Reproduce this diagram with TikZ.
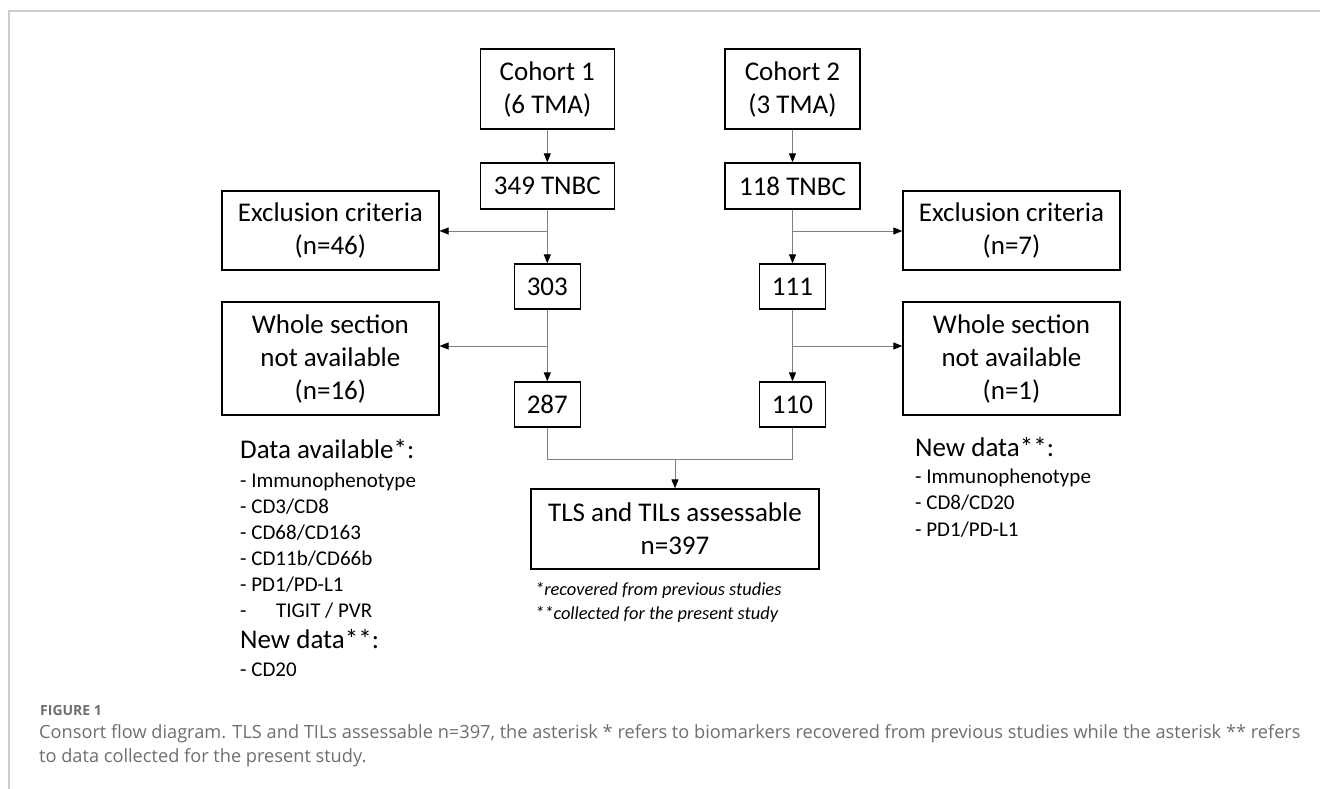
\documentclass[tikz,border=0pt]{standalone}
\usepackage{fontspec}
\setmainfont{Carlito}
\newfontfamily\capfont{Open Sans}
\usetikzlibrary{arrows.meta}
\definecolor{framegray}{HTML}{CCCCCC}
\definecolor{linegray}{HTML}{808080}
\definecolor{capgray}{HTML}{6E6E6E}
\begin{document}
\begin{tikzpicture}[x=1pt,y=-1pt,
  boxs/.style={draw=black, line width=1.3pt, inner sep=0pt, align=center, font=\fontsize{27}{33}\selectfont},
  conn/.style={draw=linegray, line width=1pt},
  arr/.style={conn, -{Triangle[length=9pt,width=7pt,color=black]}},
  head/.style={anchor=base west, inner sep=0pt, font=\fontsize{27}{33}\selectfont},
  item/.style={anchor=base west, inner sep=0pt, font=\fontsize{21}{26}\selectfont},
  foot/.style={anchor=base west, inner sep=0pt, font=\fontsize{18.4}{24}\selectfont\itshape},
  captext/.style={anchor=base west, inner sep=0pt, text=capgray, font=\capfont\fontsize{18.2}{24}\selectfont}
]
\useasboundingbox (0,0) rectangle (1320,789);
% frame
\draw[framegray, line width=1.5pt] (9,789) -- (9,11) -- (1320,11);

% left column
\node[boxs, minimum width=134pt, minimum height=80pt] (c1) at (547.3,89) {Cohort 1\\(6 TMA)};
\node[boxs, minimum width=134pt, minimum height=46pt] (t1) at (547.3,186) {349 TNBC};
\node[boxs, minimum width=217pt, minimum height=79pt] (e1) at (330.4,230.5) {Exclusion criteria\\(n=46)};
\node[boxs, minimum width=66pt, minimum height=45pt] (a1) at (547.3,286.5) {303};
\node[boxs, minimum width=217pt, minimum height=113pt] (w1) at (330.4,358.5) {Whole section\\not available\\(n=16)};
\node[boxs, minimum width=66pt, minimum height=45pt] (b1) at (547.3,404.5) {287};

% right column
\node[boxs, minimum width=135pt, minimum height=80pt] (c2) at (792.5,89) {Cohort 2\\(3 TMA)};
\node[boxs, minimum width=135pt, minimum height=46pt] (t2) at (792.5,186) {118 TNBC};
\node[boxs, minimum width=217pt, minimum height=79pt] (e2) at (1011.5,230.5) {Exclusion criteria\\(n=7)};
\node[boxs, minimum width=66pt, minimum height=45pt] (a2) at (792.5,286.5) {111};
\node[boxs, minimum width=217pt, minimum height=113pt] (w2) at (1011.5,358.5) {Whole section\\not available\\(n=1)};
\node[boxs, minimum width=66pt, minimum height=45pt] (b2) at (792.5,404.5) {110};

% final
\node[boxs, minimum width=288pt, minimum height=80pt] (tls) at (675,529) {TLS and TILs assessable\\n=397};

% connectors
\coordinate (j1) at (547.3,231);
\coordinate (j2) at (547.3,346);
\coordinate (k1) at (792.5,231);
\coordinate (k2) at (792.5,346);
\coordinate (m) at (675,459);
\draw[arr] (c1) -- (t1);
\draw[arr] (t1) -- (a1);
\draw[arr] (j1) -- (j1 -| e1.east);
\draw[arr] (a1) -- (b1);
\draw[arr] (j2) -- (j2 -| w1.east);
\draw[arr] (c2) -- (t2);
\draw[arr] (t2) -- (a2);
\draw[arr] (k1) -- (k1 -| e2.west);
\draw[arr] (a2) -- (b2);
\draw[arr] (k2) -- (k2 -| w2.west);
\draw[conn] (b1) |- (m);
\draw[conn] (b2) |- (m);
\draw[arr] (m) -- (tls);

% left data list
\node[head] (dh) at (240,458) {Data available*:};
\node[item] (d1) at (240,487) {- Immunophenotype};
\node[item] (d2) at (240,513) {- CD3/CD8};
\node[item] (d3) at (240,539) {- CD68/CD163};
\node[item] (d4) at (240,565) {- CD11b/CD66b};
\node[item] (d5) at (240,591) {- PD1/PD-L1};
\node[item] (d6) at (240,617) {\makebox[36pt][l]{-}TIGIT / PVR};
\node[head] (nh) at (240,648) {New data**:};
\node[item] (n1) at (240,676) {- CD20};

% right data list
\node[head] (rh) at (915,456) {New data**:};
\node[item] (r1) at (915,483) {- Immunophenotype};
\node[item] (r2) at (915,509) {- CD8/CD20};
\node[item] (r3) at (915,536) {- PD1/PD-L1};

% footnotes
\node[foot] (f1) at (535,595) {*recovered from previous studies};
\node[foot] (f2) at (535,619) {**collected for the present study};

% caption
\node[anchor=base west, inner sep=0pt, text=capgray, font=\capfont\bfseries\fontsize{14}{18}\selectfont] (fig) at (40,715) {FIGURE 1};
\node[captext] (cl1) at (39,738) {Consort flow diagram. TLS and TILs assessable n=397, the asterisk * refers to biomarkers recovered from previous studies while the asterisk ** refers};
\node[captext] (cl2) at (39,762) {to data collected for the present study.};
\end{tikzpicture}
\end{document}
